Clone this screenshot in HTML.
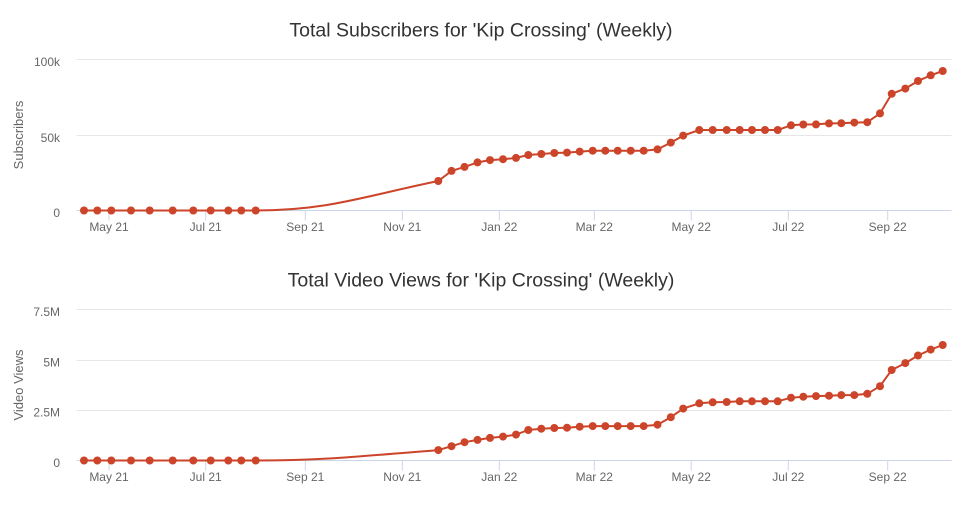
<!DOCTYPE html>
<html>
<head>
<meta charset="utf-8">
<style>
html,body{margin:0;padding:0;background:#fff;}
svg{display:block;}
text{font-family:"Liberation Sans",Arial,sans-serif;}
</style>
</head>
<body>
<svg width="964" height="520" viewBox="0 0 964 520" xmlns="http://www.w3.org/2000/svg">
<rect width="964" height="520" fill="#fff"/>

<!-- ===== TOP CHART ===== -->
<text x="481" y="36.5" text-anchor="middle" font-size="19.5" fill="#333">Total Subscribers for 'Kip Crossing' (Weekly)</text>
<g stroke="#e6e6e6" stroke-width="1">
<line x1="76.5" y1="59.5" x2="951.5" y2="59.5"/>
<line x1="76.5" y1="135.5" x2="951.5" y2="135.5"/>
</g>
<line x1="76.5" y1="210.5" x2="951.5" y2="210.5" stroke="#ccd6eb" stroke-width="1"/>
<g stroke="#ccd6eb" stroke-width="1">
<line x1="109" y1="210.5" x2="109" y2="220.5"/>
<line x1="205.7" y1="210.5" x2="205.7" y2="220.5"/>
<line x1="305.3" y1="210.5" x2="305.3" y2="220.5"/>
<line x1="402.3" y1="210.5" x2="402.3" y2="220.5"/>
<line x1="499.3" y1="210.5" x2="499.3" y2="220.5"/>
<line x1="594.3" y1="210.5" x2="594.3" y2="220.5"/>
<line x1="691.2" y1="210.5" x2="691.2" y2="220.5"/>
<line x1="788.3" y1="210.5" x2="788.3" y2="220.5"/>
<line x1="887.7" y1="210.5" x2="887.7" y2="220.5"/>
</g>
<g font-size="12" fill="#666" text-anchor="end">
<text x="60" y="66">100k</text>
<text x="60" y="142">50k</text>
<text x="60" y="217">0</text>
</g>
<g font-size="12" fill="#666" text-anchor="middle">
<text x="109" y="231">May 21</text>
<text x="205.7" y="231">Jul 21</text>
<text x="305.3" y="231">Sep 21</text>
<text x="402.3" y="231">Nov 21</text>
<text x="499.3" y="231">Jan 22</text>
<text x="594.3" y="231">Mar 22</text>
<text x="691.2" y="231">May 22</text>
<text x="788.3" y="231">Jul 22</text>
<text x="887.7" y="231">Sep 22</text>
</g>
<text transform="translate(23,135) rotate(-90)" text-anchor="middle" font-size="13" fill="#666">Subscribers</text>

<path fill="none" stroke="#cc4429" stroke-width="2" stroke-linejoin="round" stroke-linecap="round"
d="M84 210.5 L255.7 210.5 C328.7 210.5 365.3 195.9 438.3 181
L451.5 170.9 L464.5 166.9 L477.5 162.4 L490 160.1 L503 159.2 L516 157.9 L528.3 155 L541.3 154 L554.3 153 L567 152.6 L579.7 151.6 L592.7 150.7 L605.3 150.7 L617.7 150.7 L630.7 150.7 L643.7 150.7 L657.5 149.4 L670.8 142.6 L683.2 135.6 L699.3 130 L712.7 130 L726.7 130 L739.7 130 L752 130 L765 130 L777.7 130 L791 125.3 L803.3 124.5 L816 124.4 L829 123.4 L841.3 123.2 L854.3 122.6 L867.3 122.2 L880 113.4 L891.7 93.8 L905.3 88.6 L918 81 L930.7 75.3 L942.7 71"/>
<g fill="#cc4429">
<circle cx="84" cy="210.5" r="4"/><circle cx="97.3" cy="210.5" r="4"/><circle cx="111.3" cy="210.5" r="4"/><circle cx="131" cy="210.5" r="4"/><circle cx="149.7" cy="210.5" r="4"/><circle cx="172.7" cy="210.5" r="4"/><circle cx="193.3" cy="210.5" r="4"/><circle cx="210.7" cy="210.5" r="4"/><circle cx="228.3" cy="210.5" r="4"/><circle cx="241.3" cy="210.5" r="4"/><circle cx="255.7" cy="210.5" r="4"/>
<circle cx="438.3" cy="181" r="4"/><circle cx="451.5" cy="170.9" r="4"/><circle cx="464.5" cy="166.9" r="4"/><circle cx="477.5" cy="162.4" r="4"/><circle cx="490" cy="160.1" r="4"/><circle cx="503" cy="159.2" r="4"/><circle cx="516" cy="157.9" r="4"/><circle cx="528.3" cy="155" r="4"/><circle cx="541.3" cy="154" r="4"/><circle cx="554.3" cy="153" r="4"/><circle cx="567" cy="152.6" r="4"/><circle cx="579.7" cy="151.6" r="4"/><circle cx="592.7" cy="150.7" r="4"/><circle cx="605.3" cy="150.7" r="4"/><circle cx="617.7" cy="150.7" r="4"/><circle cx="630.7" cy="150.7" r="4"/><circle cx="643.7" cy="150.7" r="4"/><circle cx="657.5" cy="149.4" r="4"/><circle cx="670.8" cy="142.6" r="4"/><circle cx="683.2" cy="135.6" r="4"/><circle cx="699.3" cy="130" r="4"/><circle cx="712.7" cy="130" r="4"/><circle cx="726.7" cy="130" r="4"/><circle cx="739.7" cy="130" r="4"/><circle cx="752" cy="130" r="4"/><circle cx="765" cy="130" r="4"/><circle cx="777.7" cy="130" r="4"/><circle cx="791" cy="125.3" r="4"/><circle cx="803.3" cy="124.5" r="4"/><circle cx="816" cy="124.4" r="4"/><circle cx="829" cy="123.4" r="4"/><circle cx="841.3" cy="123.2" r="4"/><circle cx="854.3" cy="122.6" r="4"/><circle cx="867.3" cy="122.2" r="4"/><circle cx="880" cy="113.4" r="4"/><circle cx="891.7" cy="93.8" r="4"/><circle cx="905.3" cy="88.6" r="4"/><circle cx="918" cy="81" r="4"/><circle cx="930.7" cy="75.3" r="4"/><circle cx="942.7" cy="71" r="4"/>
</g>

<!-- ===== BOTTOM CHART ===== -->
<text x="481" y="286.5" text-anchor="middle" font-size="19.5" fill="#333">Total Video Views for 'Kip Crossing' (Weekly)</text>
<g stroke="#e6e6e6" stroke-width="1">
<line x1="76.5" y1="309.5" x2="951.5" y2="309.5"/>
<line x1="76.5" y1="360.5" x2="951.5" y2="360.5"/>
<line x1="76.5" y1="410.5" x2="951.5" y2="410.5"/>
</g>
<line x1="76.5" y1="460.5" x2="951.5" y2="460.5" stroke="#ccd6eb" stroke-width="1"/>
<g stroke="#ccd6eb" stroke-width="1">
<line x1="109" y1="460.5" x2="109" y2="470.5"/>
<line x1="205.7" y1="460.5" x2="205.7" y2="470.5"/>
<line x1="305.3" y1="460.5" x2="305.3" y2="470.5"/>
<line x1="402.3" y1="460.5" x2="402.3" y2="470.5"/>
<line x1="499.3" y1="460.5" x2="499.3" y2="470.5"/>
<line x1="594.3" y1="460.5" x2="594.3" y2="470.5"/>
<line x1="691.2" y1="460.5" x2="691.2" y2="470.5"/>
<line x1="788.3" y1="460.5" x2="788.3" y2="470.5"/>
<line x1="887.7" y1="460.5" x2="887.7" y2="470.5"/>
</g>
<g font-size="12" fill="#666" text-anchor="end">
<text x="60" y="316">7.5M</text>
<text x="60" y="366.5">5M</text>
<text x="60" y="416.5">2.5M</text>
<text x="60" y="467">0</text>
</g>
<g font-size="12" fill="#666" text-anchor="middle">
<text x="109" y="481">May 21</text>
<text x="205.7" y="481">Jul 21</text>
<text x="305.3" y="481">Sep 21</text>
<text x="402.3" y="481">Nov 21</text>
<text x="499.3" y="481">Jan 22</text>
<text x="594.3" y="481">Mar 22</text>
<text x="691.2" y="481">May 22</text>
<text x="788.3" y="481">Jul 22</text>
<text x="887.7" y="481">Sep 22</text>
</g>
<text transform="translate(23,385) rotate(-90)" text-anchor="middle" font-size="13" fill="#666">Video Views</text>

<path fill="none" stroke="#cc4429" stroke-width="2" stroke-linejoin="round" stroke-linecap="round"
d="M84 460.5 L255.7 460.5 C328.7 460.5 365.3 455.7 438.3 450.1
L451.5 446.2 L464.5 442.2 L477.5 439.9 L490 437.9 L503 436.6 L516 434.6 L528.3 430 L541.3 428.7 L554.3 428 L567 427.7 L579.7 426.7 L592.7 426.1 L605.3 426.1 L617.7 426.1 L630.7 426.1 L643.7 426.1 L657.5 424.7 L670.8 417.2 L683.2 408.6 L699.3 403.3 L712.7 402.3 L726.7 402 L739.7 401.3 L752 401.3 L765 401.3 L777.7 401.3 L791 397.7 L803.3 396.7 L816 396.1 L829 395.7 L841.3 395.1 L854.3 395.1 L867.3 393.8 L880 386.2 L891.7 370 L905.3 363.1 L918 355.5 L930.7 349.6 L942.7 345"/>
<g fill="#cc4429">
<circle cx="84" cy="460.5" r="4"/><circle cx="97.3" cy="460.5" r="4"/><circle cx="111.3" cy="460.5" r="4"/><circle cx="131" cy="460.5" r="4"/><circle cx="149.7" cy="460.5" r="4"/><circle cx="172.7" cy="460.5" r="4"/><circle cx="193.3" cy="460.5" r="4"/><circle cx="210.7" cy="460.5" r="4"/><circle cx="228.3" cy="460.5" r="4"/><circle cx="241.3" cy="460.5" r="4"/><circle cx="255.7" cy="460.5" r="4"/>
<circle cx="438.3" cy="450.1" r="4"/><circle cx="451.5" cy="446.2" r="4"/><circle cx="464.5" cy="442.2" r="4"/><circle cx="477.5" cy="439.9" r="4"/><circle cx="490" cy="437.9" r="4"/><circle cx="503" cy="436.6" r="4"/><circle cx="516" cy="434.6" r="4"/><circle cx="528.3" cy="430" r="4"/><circle cx="541.3" cy="428.7" r="4"/><circle cx="554.3" cy="428" r="4"/><circle cx="567" cy="427.7" r="4"/><circle cx="579.7" cy="426.7" r="4"/><circle cx="592.7" cy="426.1" r="4"/><circle cx="605.3" cy="426.1" r="4"/><circle cx="617.7" cy="426.1" r="4"/><circle cx="630.7" cy="426.1" r="4"/><circle cx="643.7" cy="426.1" r="4"/><circle cx="657.5" cy="424.7" r="4"/><circle cx="670.8" cy="417.2" r="4"/><circle cx="683.2" cy="408.6" r="4"/><circle cx="699.3" cy="403.3" r="4"/><circle cx="712.7" cy="402.3" r="4"/><circle cx="726.7" cy="402" r="4"/><circle cx="739.7" cy="401.3" r="4"/><circle cx="752" cy="401.3" r="4"/><circle cx="765" cy="401.3" r="4"/><circle cx="777.7" cy="401.3" r="4"/><circle cx="791" cy="397.7" r="4"/><circle cx="803.3" cy="396.7" r="4"/><circle cx="816" cy="396.1" r="4"/><circle cx="829" cy="395.7" r="4"/><circle cx="841.3" cy="395.1" r="4"/><circle cx="854.3" cy="395.1" r="4"/><circle cx="867.3" cy="393.8" r="4"/><circle cx="880" cy="386.2" r="4"/><circle cx="891.7" cy="370" r="4"/><circle cx="905.3" cy="363.1" r="4"/><circle cx="918" cy="355.5" r="4"/><circle cx="930.7" cy="349.6" r="4"/><circle cx="942.7" cy="345" r="4"/>
</g>
</svg>
</body>
</html>
